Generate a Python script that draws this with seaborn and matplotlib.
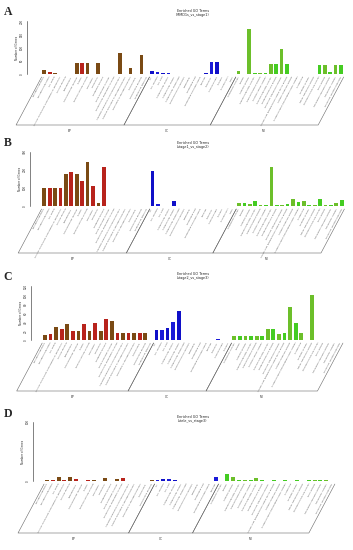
import numpy as np
import pandas as pd
import seaborn as sns
import matplotlib
matplotlib.use("Agg")
import matplotlib.pyplot as plt
import matplotlib.transforms as mtransforms

sns.set_theme(style="white")
plt.rcParams["font.family"] = ["DejaVu Sans"]

# GO terms (level 2)
bp_terms = ["biological adhesion", "biological regulation", "cell killing",
            "cellular component organization or biogenesis", "cellular process",
            "detoxification", "developmental process", "growth",
            "immune system process", "localization", "locomotion",
            "metabolic process", "multi-organism process",
            "multicellular organismal process",
            "negative regulation of biological process",
            "positive regulation of biological process",
            "regulation of biological process", "reproduction",
            "reproductive process", "response to stimulus"]
cc_terms = ["cell", "cell junction", "cell part", "extracellular matrix",
            "extracellular region", "extracellular region part",
            "macromolecular complex", "membrane", "membrane part",
            "membrane-enclosed lumen", "nucleoid", "organelle", "organelle part",
            "synapse", "synapse part", "virion"]
mf_terms = ["antioxidant activity", "binding", "catalytic activity",
            "channel regulator activity", "chemoattractant activity",
            "electron carrier activity", "enzyme regulator activity",
            "metallochaperone activity", "molecular transducer activity",
            "nucleic acid binding transcription factor activity",
            "nutrient reservoir activity",
            "protein binding transcription factor activity", "protein tag",
            "receptor activity", "signal transducer activity",
            "structural molecule activity", "toxin activity",
            "translation regulator activity", "transporter activity",
            "molecular function regulator"]

# panel A  (MMD1s_vs_stage1)
a_bp = [15, 8, 4, 1, 1, 1, 40, 40, 40, 1, 40, 1, 1, 1, 78, 1, 22, 1, 72, 1]
a_cc = [12, 9, 3, 2, 1, 1, 1, 1, 1, 1, 3, 45, 45, 1, 1, 1]
a_mf = [12, 1, 170, 4, 3, 3, 37, 37, 95, 37, 1, 1, 1, 1, 1, 33, 33, 8, 33, 33]
a_ticks = [0, 50, 100, 150, 200]

# panel B  (stage1_vs_stage2)
b_bp = [98, 98, 98, 98, 176, 187, 180, 139, 246, 113, 15, 219, 2, 2, 2, 2, 2, 2, 2, 2]
b_cc = [194, 11, 2, 2, 28, 2, 2, 2, 2, 2, 2, 2, 2, 0, 0, 0]
b_mf = [15, 15, 10, 28, 5, 5, 219, 3, 5, 10, 39, 22, 28, 5, 5, 37, 3, 3, 15, 33]
b_ticks = [0, 100, 200, 300]

# panel C  (stage2_vs_stage3)
c_bp = [11, 13, 30, 25, 36, 21, 21, 36, 21, 38, 21, 47, 43, 16, 16, 16, 16, 16, 16, 1]
c_cc = [23, 23, 27, 39, 65, 0, 0, 0, 0, 1, 0, 2, 0, 1]
c_mf = [10, 10, 10, 10, 10, 10, 25, 25, 13, 15, 74, 37, 16, 0, 100, 1, 0, 0, 0, 0]
c_ticks = [0, 20, 40, 60, 80, 100, 120]

# panel D  (stele_vs_stage3)
d_bp = [1, 1, 7, 1, 6, 3, 0, 1, 1, 0, 5, 0, 3, 5, 0, 0, 0, 0, 2]
d_cc = [1, 3, 3, 1, 0, 0, 0, 0, 0, 0, 6]
d_mf = [0, 12, 7, 2, 2, 2, 5, 1, 0, 2, 0, 1, 0, 1, 0, 1, 1, 1, 1, 0]
d_ticks = [0, 100]

panels = [
    ("A", "(MMD1s_vs_stage1)", a_bp, a_cc, a_mf, a_ticks),
    ("B", "(stage1_vs_stage2)", b_bp, b_cc, b_mf, b_ticks),
    ("C", "(stage2_vs_stage3)", c_bp, c_cc, c_mf, c_ticks),
    ("D", "(stele_vs_stage3)", d_bp, d_cc, d_mf, d_ticks),
]

# layout in pixels: y-axis x, first bar x, last bar x, right edge, top tick y,
# baseline y, bracket bottom y, letter y, title y
layout = [
    (27, 44.3, 341.0, 345, 21, 74, 125, 12, 13),
    (30, 44.3, 341.7, 345, 152, 206, 253, 143, 145),
    (31, 45.0, 340.2, 344, 286, 340, 391, 277, 276),
    (33, 47.0, 332.0, 338, 422, 481, 533, 414, 419),
]

shades = {"BP": ["#7a4a14", "#b8231c"],
          "CC": ["#1010c8", "#1a1ad8"],
          "MF": ["#6cbf2a", "#44cc22"]}

W, H = 353, 550
fig = plt.figure(figsize=(W / 100, H / 100), dpi=100)

for (letter, sub, bp, cc, mf, ticks), lay in zip(panels, layout):
    L, b0, b1, R, ytop, ybase, ybot, ly, ty = lay
    terms = bp_terms[:len(bp)] + cc_terms[:len(cc)] + mf_terms[:len(mf)]
    vals = bp + cc + mf
    cats = ["BP"] * len(bp) + ["CC"] * len(cc) + ["MF"] * len(mf)
    n = len(vals)
    colors = [shades[c][i % 2] for i, c in enumerate(cats)]
    df = pd.DataFrame({"term": terms, "count": vals})

    ax = fig.add_axes([L / W, 1 - ybase / H, (R - L) / W, (ybase - ytop) / H])
    sns.barplot(data=df, x="term", y="count", hue="term", palette=colors,
                order=terms, hue_order=terms, legend=False, width=0.68,
                saturation=1, linewidth=0, ax=ax)
    s = (b1 - b0) / (n - 1)
    xl = -(b0 - L) / s
    ax.set_xlim(xl, xl + (R - L) / s)
    ax.set_ylim(0, ticks[-1])
    ax.set_yticks(ticks)
    ax.set_yticklabels([str(t) for t in ticks], rotation=90, va="center",
                       fontsize=2)
    ax.tick_params(axis="y", length=1.5, width=0.4, pad=0.6, colors="#222")
    ax.tick_params(axis="x", length=1, width=0.3, pad=0.5, colors="#555")
    ax.set_xticks(range(n))
    ax.set_xticklabels(terms, rotation=62, ha="right", va="top",
                       rotation_mode="anchor", fontsize=1.7, color="#555")
    for sp in ["top", "right", "bottom"]:
        ax.spines[sp].set_visible(False)
    ax.spines["left"].set_linewidth(0.4)
    ax.spines["left"].set_color("#222")
    ax.spines["left"].set_bounds(0, ticks[-1])
    ax.hlines(0, -1.5, n - 0.3, color="#555", lw=0.4)
    ax.set_xlabel("")
    ax.set_ylabel("Number of Genes", fontsize=2, labelpad=1)

    # brackets round BP / CC / MF
    trans = mtransforms.blended_transform_factory(ax.transData, ax.transAxes)
    h = ybase - ytop
    ytop_ax = -3 / h
    ybot_ax = -(ybot - ybase) / h
    dx = (ybot - ybase - 3) / np.tan(np.radians(62)) / s
    start = 0
    for name, grp in [("BP", bp), ("CC", cc), ("MF", mf)]:
        x0, x1 = start - 0.5, start + len(grp) - 0.5
        ax.plot([x0, x0 - dx, x1 - dx, x1], [ytop_ax, ybot_ax, ybot_ax, ytop_ax],
                color="#666", lw=0.4, transform=trans, clip_on=False)
        ax.text((x0 + x1) / 2 - dx, ybot_ax - 4 / h, name, fontsize=2.2,
                ha="center", va="top", transform=trans, color="#333")
        start += len(grp)

    fig.text(193 / W, 1 - ty / H, "Enriched GO Terms\n" + sub, fontsize=2.4,
             ha="center", va="center", linespacing=1.2, color="#222")
    fig.text(8 / W, 1 - ly / H, letter, fontsize=8.5, fontweight="bold",
             family="Liberation Serif", ha="center", va="center")

fig.savefig("out.png", dpi=100)
